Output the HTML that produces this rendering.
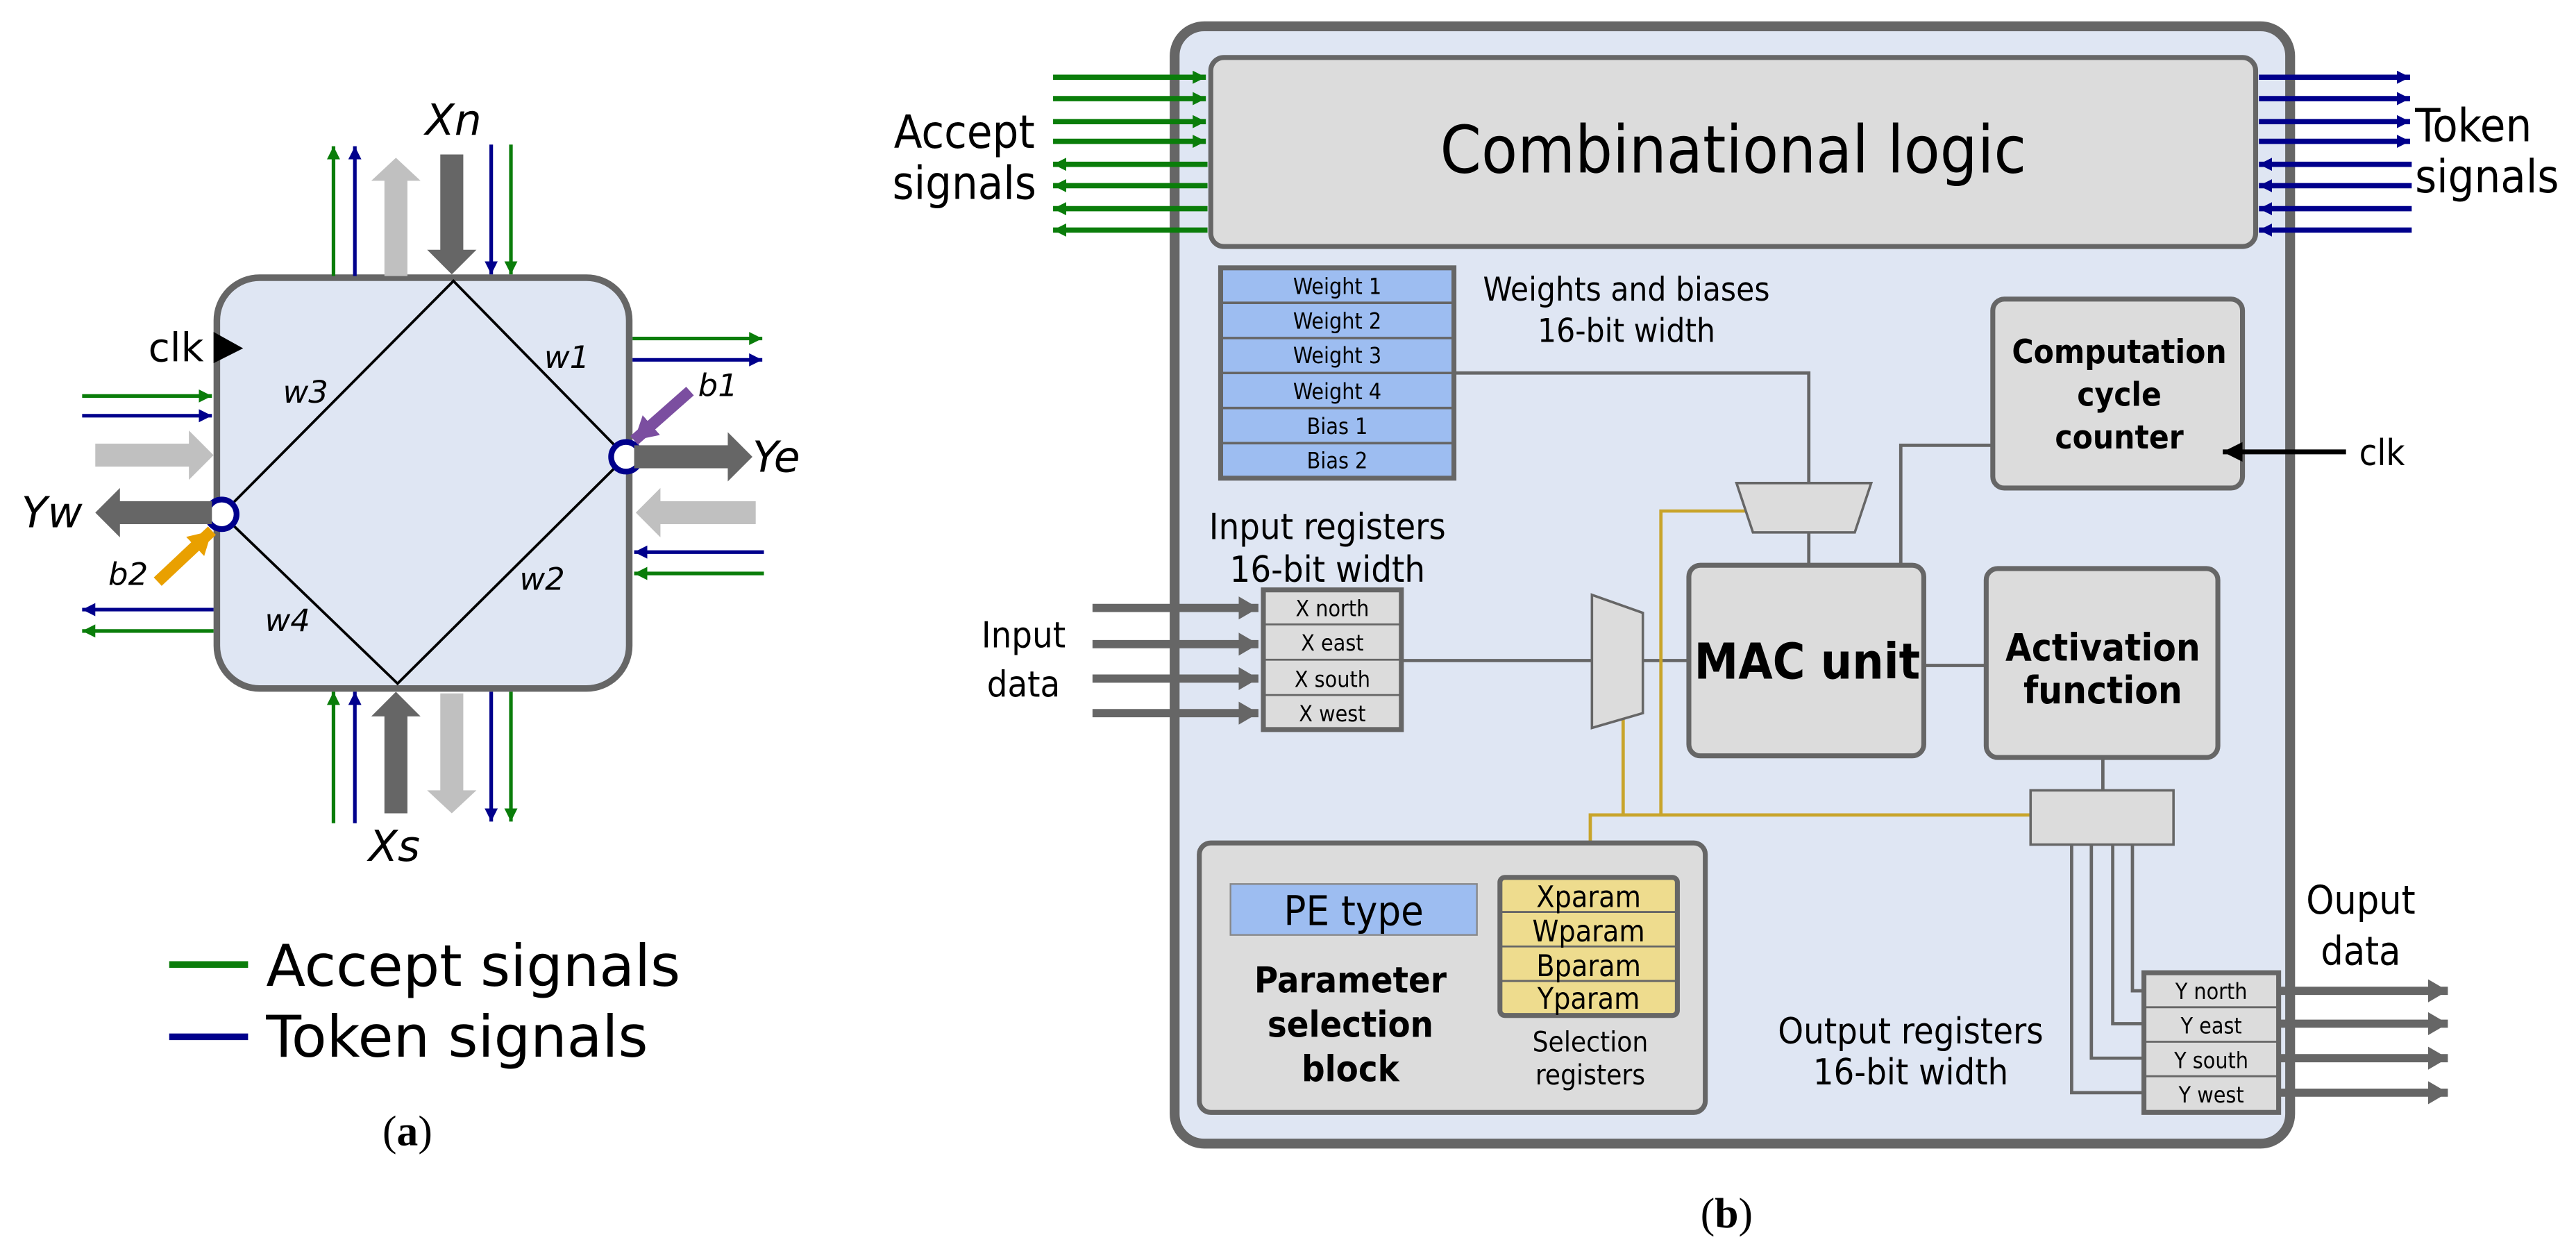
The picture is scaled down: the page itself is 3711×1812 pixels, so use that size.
<!DOCTYPE html>
<html><head><meta charset="utf-8"><style>
html,body{margin:0;padding:0;background:#fff;}
svg{display:block;}
text{font-family:"DejaVu Sans Condensed","DejaVu Sans","Liberation Sans",sans-serif;fill:#000;}
.a text{font-family:"DejaVu Sans","Liberation Sans",sans-serif;}
</style></head><body>
<svg width="3711" height="1812" viewBox="0 0 1568 765.6" xmlns="http://www.w3.org/2000/svg">
<defs>
<marker id="mg" markerUnits="userSpaceOnUse" markerWidth="10" markerHeight="10" refX="8" refY="4" orient="auto"><path d="M0,0 L8,4 L0,8 z" fill="#0a7d0a"/></marker>
<marker id="mn" markerUnits="userSpaceOnUse" markerWidth="10" markerHeight="10" refX="8" refY="4" orient="auto"><path d="M0,0 L8,4 L0,8 z" fill="#00008c"/></marker>
<marker id="mk" markerUnits="userSpaceOnUse" markerWidth="14" markerHeight="14" refX="12" refY="6" orient="auto"><path d="M0,0 L12,6 L0,12 z" fill="#000"/></marker>
<marker id="mgr" markerUnits="userSpaceOnUse" markerWidth="14" markerHeight="16" refX="12" refY="7" orient="auto"><path d="M0,0 L12,7 L0,14 z" fill="#666"/></marker>
<marker id="mp" markerUnits="userSpaceOnUse" markerWidth="18" markerHeight="18" refX="14" refY="8" orient="auto"><path d="M0,0 L14,8 L0,16 z" fill="#7b4ea0"/></marker>
<marker id="mo" markerUnits="userSpaceOnUse" markerWidth="18" markerHeight="18" refX="14" refY="8" orient="auto"><path d="M0,0 L14,8 L0,16 z" fill="#e9a000"/></marker>
</defs>

<!-- ================= PANEL A ================= -->
<g class="a">
<rect x="132" y="169" width="251" height="250" rx="26" fill="#dfe6f3" stroke="#666" stroke-width="4"/>
<polygon points="276,171 381,278 242,416 135,313" fill="none" stroke="#000" stroke-width="1.6"/>
<circle cx="381" cy="278" r="9" fill="#fff" stroke="#00008c" stroke-width="3.5"/>
<circle cx="135" cy="313" r="9" fill="#fff" stroke="#00008c" stroke-width="3.5"/>

<g stroke-width="2.2" fill="none">
<line x1="203" y1="168" x2="203" y2="89" stroke="#0a7d0a" marker-end="url(#mg)"/>
<line x1="216" y1="168" x2="216" y2="89" stroke="#00008c" marker-end="url(#mn)"/>
<line x1="299" y1="88" x2="299" y2="167" stroke="#00008c" marker-end="url(#mn)"/>
<line x1="311" y1="88" x2="311" y2="167" stroke="#0a7d0a" marker-end="url(#mg)"/>
<line x1="203" y1="501" x2="203" y2="421" stroke="#0a7d0a" marker-end="url(#mg)"/>
<line x1="216" y1="501" x2="216" y2="421" stroke="#00008c" marker-end="url(#mn)"/>
<line x1="299" y1="421" x2="299" y2="500" stroke="#00008c" marker-end="url(#mn)"/>
<line x1="311" y1="421" x2="311" y2="500" stroke="#0a7d0a" marker-end="url(#mg)"/>
<line x1="385" y1="206" x2="464" y2="206" stroke="#0a7d0a" marker-end="url(#mg)"/>
<line x1="385" y1="219" x2="464" y2="219" stroke="#00008c" marker-end="url(#mn)"/>
<line x1="465" y1="336" x2="386" y2="336" stroke="#00008c" marker-end="url(#mn)"/>
<line x1="465" y1="349" x2="386" y2="349" stroke="#0a7d0a" marker-end="url(#mg)"/>
<line x1="50" y1="241" x2="129" y2="241" stroke="#0a7d0a" marker-end="url(#mg)"/>
<line x1="50" y1="253" x2="129" y2="253" stroke="#00008c" marker-end="url(#mn)"/>
<line x1="130" y1="371" x2="50" y2="371" stroke="#00008c" marker-end="url(#mn)"/>
<line x1="130" y1="384" x2="50" y2="384" stroke="#0a7d0a" marker-end="url(#mg)"/>
</g>
<polygon points="234,168 234,110 226,110 241,96 256,110 248,110 248,168" fill="#c0c0c0"/>
<polygon points="268,94 282,94 282,152 290,152 275,167 260,152 268,152" fill="#666"/>
<polygon points="234,495 234,436 226,436 241,421 256,436 248,436 248,495" fill="#666"/>
<polygon points="268,422 282,422 282,481 290,481 275,495 260,481 268,481" fill="#c0c0c0"/>
<polygon points="386,271 443,271 443,263 458,278 443,293 443,285 386,285" fill="#666"/>
<polygon points="460,305 402,305 402,297 387,312 402,327 402,319 460,319" fill="#c0c0c0"/>
<polygon points="58,270 115,270 115,262 130,277 115,292 115,284 58,284" fill="#c0c0c0"/>
<polygon points="129,305 73,305 73,297 58,312 73,327 73,319 129,319" fill="#666"/>
<line x1="420" y1="238" x2="386" y2="268" stroke="#7b4ea0" stroke-width="7" marker-end="url(#mp)"/>
<line x1="96" y1="354" x2="129" y2="323" stroke="#e9a000" stroke-width="7" marker-end="url(#mo)"/>
<polygon points="130,202 148,212 130,221" fill="#000"/>

<g font-style="italic">
<text x="276" y="82" font-size="26" text-anchor="middle">Xn</text>
<text x="240" y="524" font-size="26" text-anchor="middle">Xs</text>
<text x="458" y="287" font-size="26">Ye</text>
<text x="13" y="321" font-size="26">Yw</text>
<text x="437" y="241" font-size="19" text-anchor="middle">b1</text>
<text x="78" y="356" font-size="19" text-anchor="middle">b2</text>
<text x="186" y="245" font-size="19" text-anchor="middle">w3</text>
<text x="345" y="224" font-size="19" text-anchor="middle">w1</text>
<text x="330" y="359" font-size="19" text-anchor="middle">w2</text>
<text x="175" y="384" font-size="19" text-anchor="middle">w4</text>
</g>
<text x="124" y="220" font-size="24" text-anchor="end">clk</text>
<line x1="103" y1="587" x2="151" y2="587" stroke="#0a7d0a" stroke-width="4"/>
<line x1="103" y1="631" x2="151" y2="631" stroke="#00008c" stroke-width="4"/>
<text x="162" y="600" font-size="35">Accept signals</text>
<text x="162" y="643" font-size="35">Token signals</text>
</g>
<text x="248" y="697" font-size="26" text-anchor="middle" style="font-family:'Liberation Serif',serif">(<tspan font-weight="bold">a</tspan>)</text>

<!-- ================= PANEL B ================= -->
<rect x="715" y="16" width="679" height="680" rx="18" fill="#dfe6f3" stroke="#666" stroke-width="6"/>
<rect x="737" y="35" width="636" height="115" rx="8" fill="#dcdcdc" stroke="#666" stroke-width="3"/>
<text x="1055" y="105" font-size="40" text-anchor="middle">Combinational  logic</text>

<g stroke-width="3.2" fill="none">
<line x1="641" y1="47" x2="734" y2="47" stroke="#0a7d0a" marker-end="url(#mg)"/>
<line x1="641" y1="60" x2="734" y2="60" stroke="#0a7d0a" marker-end="url(#mg)"/>
<line x1="641" y1="74" x2="734" y2="74" stroke="#0a7d0a" marker-end="url(#mg)"/>
<line x1="641" y1="86" x2="734" y2="86" stroke="#0a7d0a" marker-end="url(#mg)"/>
<line x1="735" y1="100" x2="641" y2="100" stroke="#0a7d0a" marker-end="url(#mg)"/>
<line x1="735" y1="113" x2="641" y2="113" stroke="#0a7d0a" marker-end="url(#mg)"/>
<line x1="735" y1="127" x2="641" y2="127" stroke="#0a7d0a" marker-end="url(#mg)"/>
<line x1="735" y1="140" x2="641" y2="140" stroke="#0a7d0a" marker-end="url(#mg)"/>
<line x1="1375" y1="47" x2="1467" y2="47" stroke="#00008c" marker-end="url(#mn)"/>
<line x1="1375" y1="60" x2="1467" y2="60" stroke="#00008c" marker-end="url(#mn)"/>
<line x1="1375" y1="74" x2="1467" y2="74" stroke="#00008c" marker-end="url(#mn)"/>
<line x1="1375" y1="86" x2="1467" y2="86" stroke="#00008c" marker-end="url(#mn)"/>
<line x1="1468" y1="100" x2="1375" y2="100" stroke="#00008c" marker-end="url(#mn)"/>
<line x1="1468" y1="113" x2="1375" y2="113" stroke="#00008c" marker-end="url(#mn)"/>
<line x1="1468" y1="127" x2="1375" y2="127" stroke="#00008c" marker-end="url(#mn)"/>
<line x1="1468" y1="140" x2="1375" y2="140" stroke="#00008c" marker-end="url(#mn)"/>
</g>
<text x="587" y="90" font-size="28" text-anchor="middle">Accept</text>
<text x="587" y="121" font-size="28" text-anchor="middle">signals</text>
<text x="1470" y="86" font-size="28">Token</text>
<text x="1470" y="117" font-size="28">signals</text>

<rect x="743" y="163" width="142" height="128" fill="#9dbdf1" stroke="#666" stroke-width="3"/>
<g stroke="#666" stroke-width="1.5">
<line x1="743" y1="184.3" x2="885" y2="184.3"/><line x1="743" y1="205.7" x2="885" y2="205.7"/>
<line x1="743" y1="227" x2="885" y2="227"/><line x1="743" y1="248.3" x2="885" y2="248.3"/>
<line x1="743" y1="269.7" x2="885" y2="269.7"/>
</g>
<g font-size="13.5" text-anchor="middle">
<text x="814" y="179">Weight 1</text><text x="814" y="200">Weight 2</text>
<text x="814" y="221">Weight 3</text><text x="814" y="243">Weight 4</text>
<text x="814" y="264">Bias 1</text><text x="814" y="285">Bias 2</text>
</g>
<text x="990" y="183" font-size="20" text-anchor="middle">Weights and biases</text>
<text x="990" y="208" font-size="20" text-anchor="middle">16-bit width</text>

<g stroke="#666" stroke-width="2" fill="none">
<polyline points="885,227 1101,227 1101,294"/>
<line x1="1101" y1="324" x2="1101" y2="345"/>
<polyline points="1213,271 1157,271 1157,344"/>
<line x1="853" y1="402" x2="969" y2="402"/>
<line x1="1000" y1="402" x2="1028" y2="402"/>
<line x1="1171" y1="405" x2="1209" y2="405"/>
<line x1="1280" y1="461" x2="1280" y2="481"/>
<polyline points="1261,514 1261,665 1305,665"/>
<polyline points="1273,514 1273,644 1305,644"/>
<polyline points="1286,514 1286,623 1305,623"/>
<polyline points="1298,514 1298,603 1305,603"/>
</g>
<g stroke="#c8a42a" stroke-width="2" fill="none">
<polyline points="988,434 988,496"/>
<polyline points="1063,311 1011,311 1011,496"/>
<polyline points="968,534 968,496 1236,496"/>
</g>

<polygon points="1057,294 1139,294 1129,324 1067,324" fill="#dcdcdc" stroke="#666" stroke-width="1.5"/>
<polygon points="969,362 1000,373 1000,434 969,443" fill="#dcdcdc" stroke="#666" stroke-width="1.5"/>

<rect x="1213" y="182" width="152" height="115" rx="7" fill="#dcdcdc" stroke="#666" stroke-width="3"/>
<g font-size="20" font-weight="bold" text-anchor="middle">
<text x="1290" y="221">Computation</text><text x="1290" y="247">cycle</text><text x="1290" y="273">counter</text>
</g>
<line x1="1428" y1="275" x2="1353" y2="275" stroke="#000" stroke-width="3" marker-end="url(#mk)"/>
<text x="1436" y="283" font-size="22">clk</text>

<rect x="1028" y="344" width="143" height="116" rx="7" fill="#dcdcdc" stroke="#666" stroke-width="3"/>
<text x="1100" y="413" font-size="30" font-weight="bold" text-anchor="middle">MAC unit</text>
<rect x="1209" y="346" width="141" height="115" rx="7" fill="#dcdcdc" stroke="#666" stroke-width="3"/>
<text x="1280" y="402" font-size="23" font-weight="bold" text-anchor="middle">Activation</text>
<text x="1280" y="428" font-size="23" font-weight="bold" text-anchor="middle">function</text>

<rect x="769" y="359" width="84" height="85" fill="#dcdcdc" stroke="#666" stroke-width="3"/>
<g stroke="#666" stroke-width="1.2"><line x1="769" y1="380" x2="853" y2="380"/><line x1="769" y1="401.5" x2="853" y2="401.5"/><line x1="769" y1="423" x2="853" y2="423"/></g>
<g font-size="13.5" text-anchor="middle">
<text x="811" y="375">X north</text><text x="811" y="396">X east</text><text x="811" y="418">X south</text><text x="811" y="439">X west</text>
</g>
<text x="808" y="328" font-size="22" text-anchor="middle">Input registers</text>
<text x="808" y="354" font-size="22" text-anchor="middle">16-bit width</text>
<g stroke="#666" stroke-width="5">
<line x1="665" y1="370" x2="766" y2="370" marker-end="url(#mgr)"/>
<line x1="665" y1="392" x2="766" y2="392" marker-end="url(#mgr)"/>
<line x1="665" y1="413" x2="766" y2="413" marker-end="url(#mgr)"/>
<line x1="665" y1="434" x2="766" y2="434" marker-end="url(#mgr)"/>
</g>
<text x="623" y="394" font-size="22" text-anchor="middle">Input</text>
<text x="623" y="424" font-size="22" text-anchor="middle">data</text>

<rect x="1236" y="481" width="87" height="33" fill="#dcdcdc" stroke="#666" stroke-width="1.5"/>
<rect x="1305" y="592" width="82" height="85" fill="#dcdcdc" stroke="#666" stroke-width="3"/>
<g stroke="#666" stroke-width="1.2"><line x1="1305" y1="613" x2="1387" y2="613"/><line x1="1305" y1="634" x2="1387" y2="634"/><line x1="1305" y1="655" x2="1387" y2="655"/></g>
<g font-size="13.5" text-anchor="middle">
<text x="1346" y="608">Y north</text><text x="1346" y="629">Y east</text><text x="1346" y="650">Y south</text><text x="1346" y="671">Y west</text>
</g>
<g stroke="#666" stroke-width="5">
<line x1="1387" y1="603" x2="1490" y2="603" marker-end="url(#mgr)"/>
<line x1="1387" y1="623" x2="1490" y2="623" marker-end="url(#mgr)"/>
<line x1="1387" y1="644" x2="1490" y2="644" marker-end="url(#mgr)"/>
<line x1="1387" y1="665" x2="1490" y2="665" marker-end="url(#mgr)"/>
</g>
<text x="1437" y="556" font-size="24" text-anchor="middle">Ouput</text>
<text x="1437" y="587" font-size="24" text-anchor="middle">data</text>
<text x="1163" y="635" font-size="22" text-anchor="middle">Output registers</text>
<text x="1163" y="660" font-size="22" text-anchor="middle">16-bit width</text>

<rect x="730" y="513" width="308" height="164" rx="7" fill="#dcdcdc" stroke="#666" stroke-width="3"/>
<rect x="749" y="538" width="150" height="31" fill="#9dbdf1" stroke="#888" stroke-width="1"/>
<text x="824" y="563" font-size="25" text-anchor="middle">PE type</text>
<g font-size="22" font-weight="bold" text-anchor="middle">
<text x="822" y="604">Parameter</text><text x="822" y="631">selection</text><text x="822" y="658">block</text>
</g>
<rect x="913" y="534" width="108" height="84" rx="3" fill="#eedc8e" stroke="#666" stroke-width="3"/>
<g stroke="#666" stroke-width="1.2"><line x1="913" y1="555" x2="1021" y2="555"/><line x1="913" y1="576" x2="1021" y2="576"/><line x1="913" y1="597" x2="1021" y2="597"/></g>
<g font-size="18" text-anchor="middle">
<text x="967" y="552">Xparam</text><text x="967" y="573">Wparam</text><text x="967" y="594">Bparam</text><text x="967" y="614">Yparam</text>
</g>
<text x="968" y="640" font-size="17" text-anchor="middle">Selection</text>
<text x="968" y="660" font-size="17" text-anchor="middle">registers</text>

<text x="1051" y="747" font-size="26" text-anchor="middle" style="font-family:'Liberation Serif',serif">(<tspan font-weight="bold">b</tspan>)</text>
</svg>
</body></html>
